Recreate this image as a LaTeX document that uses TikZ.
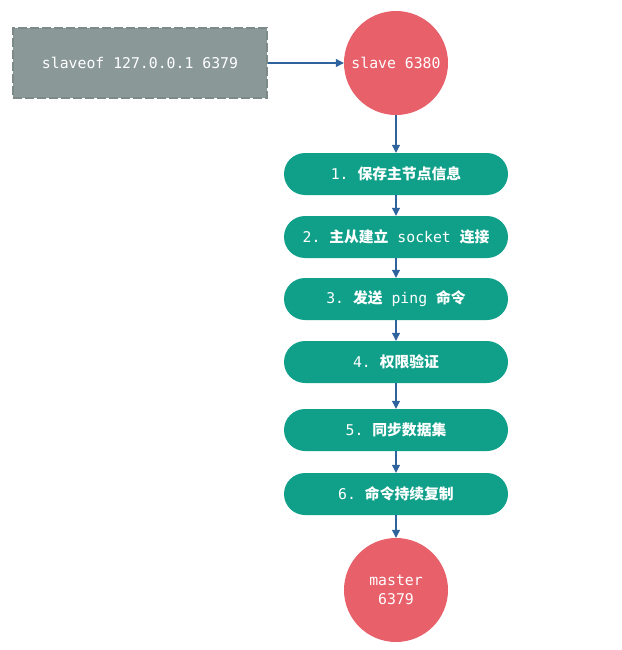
\documentclass[tikz,border=0pt]{standalone}
\usepackage{fontspec}
\setmonofont{DejaVu Sans Mono}
\newfontfamily\cjk{Noto Sans CJK SC}
\usetikzlibrary{arrows.meta}
\definecolor{boxgray}{HTML}{8A9898}
\definecolor{boxgrayedge}{HTML}{7C8A8A}
\definecolor{nodered}{HTML}{E8606A}
\definecolor{stepteal}{HTML}{10A08A}
\definecolor{arrowblue}{HTML}{2F639E}
\newcommand{\mz}[1]{{\ttfamily #1}}
\newcommand{\zh}[1]{{\cjk\bfseries #1}}
\begin{document}
\begin{tikzpicture}[x=1pt,y=-1pt,
  every node/.style={font=\fontsize{14.8}{19}\selectfont\ttfamily, text=white},
  cmdbox/.style={rectangle, fill=boxgray, draw=boxgrayedge, line width=2pt, dash pattern=on 9pt off 3pt, minimum width=254pt, minimum height=70pt},
  redcircle/.style={circle, fill=nodered, minimum size=104pt, inner sep=0pt, align=center},
  stepbox/.style={rectangle, rounded corners=21pt, fill=stepteal, minimum width=224pt, minimum height=42pt, inner sep=0pt},
  flow/.style={draw=arrowblue, line width=1.1pt, -{Triangle[length=8pt,width=8pt]}}
]
\useasboundingbox (0,0) rectangle (621,650);
\fill[white] (0,0) rectangle (621,650);
\node[cmdbox] (cmd) at (140,63) {slaveof 127.0.0.1 6379};
\node[redcircle] (slave) at (396,63) {slave 6380};
\node[stepbox] (s1) at (396,174) {\mz{1. }\zh{保存主节点信息}};
\node[stepbox] (s2) at (396,237) {\mz{2. }\zh{主从建立}\mz{ socket }\zh{连接}};
\node[stepbox] (s3) at (396,299) {\mz{3. }\zh{发送}\mz{ ping }\zh{命令}};
\node[stepbox] (s4) at (396,362) {\mz{4. }\zh{权限验证}};
\node[stepbox] (s5) at (396,430) {\mz{5. }\zh{同步数据集}};
\node[stepbox] (s6) at (396,494) {\mz{6. }\zh{命令持续复制}};
\node[redcircle] (master) at (396,590) {master\\6379};
\draw[flow] (cmd) -- (slave);
\draw[flow] (slave) -- (s1);
\draw[flow] (s1) -- (s2);
\draw[flow] (s2) -- (s3);
\draw[flow] (s3) -- (s4);
\draw[flow] (s4) -- (s5);
\draw[flow] (s5) -- (s6);
\draw[flow] (s6) -- (master);
\end{tikzpicture}
\end{document}
